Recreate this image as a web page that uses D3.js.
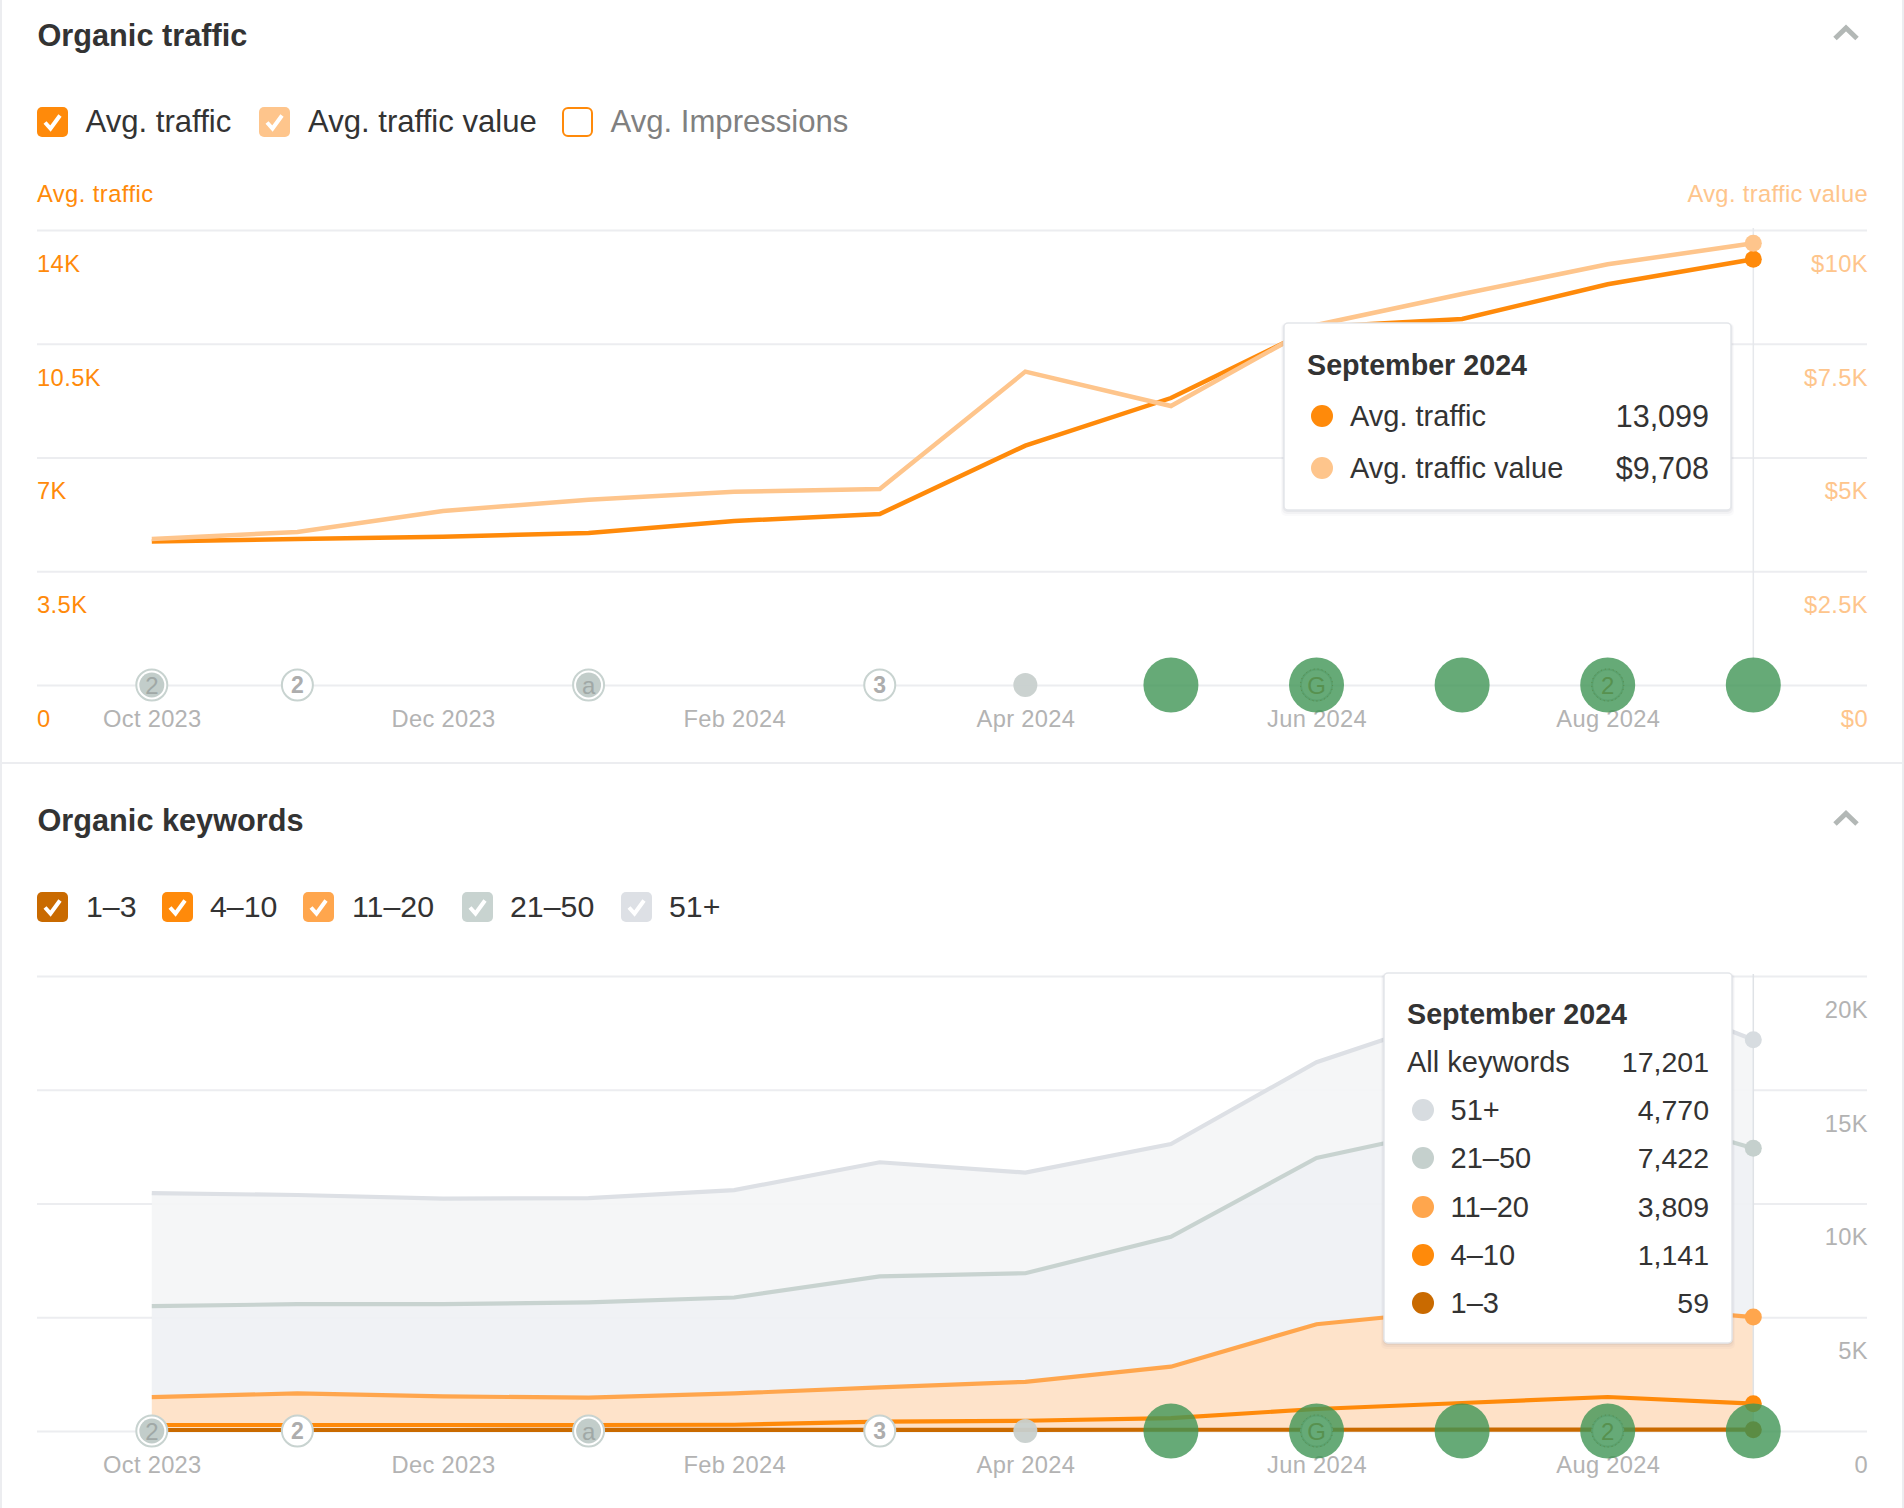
<!DOCTYPE html>
<html><head><meta charset="utf-8">
<script src="https://cdn.jsdelivr.net/npm/d3@7/dist/d3.min.js"></script>
<style>
html,body{margin:0;padding:0;background:#fff;overflow:hidden}
svg{display:block}
text{font-family:"Liberation Sans",Arial,sans-serif}
</style></head><body>
<svg id="c" width="1904" height="1508"></svg>
<script>
const months=["Oct 2023","Nov 2023","Dec 2023","Jan 2024","Feb 2024","Mar 2024","Apr 2024","May 2024","Jun 2024","Jul 2024","Aug 2024","Sep 2024"];
const xTickLabels=["Oct 2023","Dec 2023","Feb 2024","Apr 2024","Jun 2024","Aug 2024"];
const avgTraffic=[4412,4490,4560,4677,5046,5261,7366,8830,11015,11261,12330,13099];
const avgTrafficValue=[3209,3363,3824,4073,4246,4307,6888,6132,7912,8593,9246,9708];
const kw1to3=[45,45,45,46,48,50,52,54,55,57,58,59];
const kw4to10=[219,219,219,218,227,360,398,516,912,1173,1437,1141];
const kw11to20=[1229,1389,1256,1203,1378,1510,1710,2257,3726,4100,4045,3809];
const kw21to50=[4000,3920,4053,4186,4214,4880,4773,5706,7307,8057,8740,7422];
const kw51plus=[4960,4800,4640,4587,4720,5013,4427,4080,4213,4963,5420,4770];
const trafficTicks=[0,3500,7000,10500,14000];
const valueTicks=[0,2500,5000,7500,10000];
const keywordTicks=[0,5000,10000,15000,20000];
const trafficTickLabels=["0","3.5K","7K","10.5K","14K"];
const valueTickLabels=["$0","$2.5K","$5K","$7.5K","$10K"];
const keywordTickLabels=["0","5K","10K","15K","20K"];
const markerKindsByMonth=["disc","ring","none","disc","none","ring","dot","green","green","green","green","green"];
const markerGlyphsByMonth=["2","2","","a","","3","","","G","","2",""];
const trafficLegend=["Avg. traffic","Avg. traffic value","Avg. Impressions"];
const keywordLegend=["1–3","4–10","11–20","21–50","51+"];
const trafficTooltip=[["Avg. traffic","13,099"],["Avg. traffic value","$9,708"]];
const keywordTooltip=[["51+","4,770"],["21–50","7,422"],["11–20","3,809"],["4–10","1,141"],["1–3","59"]];

const C={o:"#ff8a0a",ol:"#fec58c",d:"#c96a00",m:"#ffa64d",g:"#c8d3d0",l:"#dde0e5",grid:"#ecedf0",tick:"#b3b3b3",ink:"#333333"};
const svg=d3.select("#c");
const L=37,R=1867;
const x=d3.scalePoint().domain(months).range([151.8,1753.3]);

// panel frame
svg.append("rect").attr("x",0).attr("y",0).attr("width",2).attr("height",1508).attr("fill","#ecedf0");
svg.append("rect").attr("x",1902).attr("y",0).attr("width",2).attr("height",1508).attr("fill","#ecedf0");
svg.append("rect").attr("x",0).attr("y",762).attr("width",1904).attr("height",2).attr("fill","#ecedf0");

function axisText(sel,anchor,fill){
  sel.attr("x",anchor==="end"?1:0).attr("y",33).attr("dy",".35em").attr("text-anchor",anchor).attr("font-size",23.7).attr("letter-spacing",.4).attr("fill",fill);
}
function title(t,y){
  svg.append("text").attr("x",37.5).attr("y",y).attr("dy",".35em").attr("font-size",30.7).attr("font-weight",700).attr("fill",C.ink).text(t);
  svg.append("path").attr("d",`M1835 ${y+3.5} L1846 ${y-7} L1857 ${y+3.5}`).attr("fill","none").attr("stroke","#b3b8b6").attr("stroke-width",5);
}
function checkbox(xp,y,col,on){
  const g=svg.append("g").attr("transform",`translate(${xp},${y-15})`);
  g.append("rect").attr("x",on?0:1).attr("y",on?0:1).attr("width",on?31:29).attr("height",on?30:28).attr("rx",5)
    .attr("fill",on?col:"#fff").attr("stroke",on?"none":col).attr("stroke-width",2);
  if(on) g.append("path").attr("d","M8 15.5 L13.5 21.5 L23 8.5").attr("fill","none").attr("stroke","#fff").attr("stroke-width",4);
}
function legend(items,cols,bx,lx,y,size,muted){
  items.forEach((t,i)=>{
    checkbox(bx[i],y,cols[i],!(muted===i));
    svg.append("text").attr("x",lx[i]).attr("y",y-0.5).attr("dy",".35em").attr("font-size",size).attr("fill",muted===i?"#808080":C.ink).text(t);
  });
}
function xAxis(y0){
  const g=svg.append("g").attr("transform",`translate(0,${y0})`)
    .call(d3.axisBottom(x).tickValues(xTickLabels).tickSize(0));
  g.select(".domain").remove();
  g.selectAll("text").attr("y",34).attr("dy",".35em").attr("font-size",23.7).attr("letter-spacing",.3).attr("fill",C.tick);
}
function markers(yc){
  const sz=months.map((m,i)=>({m,k:markerKindsByMonth[i],t:markerGlyphsByMonth[i]})).filter(d=>d.k!=="none");
  const g=svg.append("g").selectAll("g").data(sz).join("g").attr("transform",d=>`translate(${x(d.m)},${yc})`);
  g.filter(d=>d.k==="ring"||d.k==="disc"||(d.k==="green"&&d.t)).append("circle").attr("r",15.5).attr("fill","#fff").attr("stroke",C.g).attr("stroke-width",2);
  g.filter(d=>d.k==="disc").append("circle").attr("r",12.5).attr("fill","#c2cdca");
  g.filter(d=>d.k==="dot").append("circle").attr("r",12).attr("fill","#c8d0ce").attr("fill-opacity",.95);
  g.filter(d=>d.k==="green").append("circle").attr("r",27.5).attr("fill","#409555").attr("fill-opacity",.8);
  g.filter(d=>d.k==="green"&&d.t).append("circle").attr("r",16).attr("fill","none").attr("stroke","#5a8a48").attr("stroke-width",1).attr("stroke-dasharray","1 3");
  g.filter(d=>d.t).append("text").attr("text-anchor","middle").attr("dy",".36em").attr("font-size",d=>d.k==="ring"?23:24)
    .attr("font-weight",d=>d.k==="ring"?700:400)
    .attr("fill",d=>d.k==="ring"?"#adadad":d.k==="disc"?"#a0a8a6":"#57914f").text(d=>d.t);
}
function tooltip(xa,ya,w,h,titleY,titleText){
  const g=svg.append("g");
  [[6,.03],[4,.05],[2,.08]].forEach(([s,o])=>g.append("rect").attr("x",xa-s/2).attr("y",ya).attr("width",w+s).attr("height",h+s).attr("rx",5).attr("fill","#59637a").attr("fill-opacity",o));
  g.append("rect").attr("x",xa).attr("y",ya).attr("width",w).attr("height",h).attr("rx",4).attr("fill","#fff").attr("stroke","#e4e6ea").attr("stroke-width",1.5);
  g.append("text").attr("x",xa+23).attr("y",titleY).attr("dy",".35em").attr("font-size",28.7).attr("font-weight",700).attr("fill",C.ink).text(titleText);
  return g;
}
function row(g,dx,lx,rx,y,col,label,val,valSize){
  if(col) g.append("circle").attr("cx",dx).attr("cy",y).attr("r",11).attr("fill",col);
  g.append("text").attr("x",lx).attr("y",y).attr("dy",".35em").attr("font-size",29).attr("fill",C.ink).text(label);
  g.append("text").attr("x",rx).attr("y",y).attr("dy",".35em").attr("text-anchor","end").attr("font-size",valSize).attr("fill",C.ink).text(val);
}

/* ---------- Organic traffic ---------- */
title("Organic traffic",35);
legend(trafficLegend,[C.o,C.ol,C.o],[37,259,562],[85.5,308,610.5],122,31.1,2);
svg.append("text").attr("x",37).attr("y",194).attr("dy",".35em").attr("font-size",23.7).attr("letter-spacing",.45).attr("fill",C.o).text("Avg. traffic");
svg.append("text").attr("x",R+1).attr("y",194).attr("dy",".35em").attr("text-anchor","end").attr("font-size",23.7).attr("letter-spacing",.35).attr("fill",C.ol).text("Avg. traffic value");
const y1=d3.scaleLinear().domain([0,14000]).range([685,230]);
const y1v=d3.scaleLinear().domain([0,10000]).range([685,230]);
const aL=svg.append("g").attr("transform",`translate(${L},0)`).call(d3.axisLeft(y1).tickValues(trafficTicks).tickSize(-(R-L)).tickFormat((d,i)=>trafficTickLabels[i]));
aL.select(".domain").remove();
aL.selectAll("line").attr("stroke",C.grid).attr("stroke-width",2);
axisText(aL.selectAll("text"),"start",C.o);
const aR=svg.append("g").attr("transform",`translate(${R},0)`).call(d3.axisRight(y1v).tickValues(valueTicks).tickSize(0).tickFormat((d,i)=>valueTickLabels[i]));
aR.select(".domain").remove();
axisText(aR.selectAll("text"),"end",C.ol);
xAxis(685);
svg.append("line").attr("x1",x(months[11])).attr("x2",x(months[11])).attr("y1",228).attr("y2",660).attr("stroke","#e6e8ec").attr("stroke-width",1.5);
const ln1=d3.line().x((d,i)=>x(months[i])).y(d=>y1(d));
const ln1v=d3.line().x((d,i)=>x(months[i])).y(d=>y1v(d));
svg.append("path").attr("d",ln1(avgTraffic)).attr("fill","none").attr("stroke",C.o).attr("stroke-width",4.5);
svg.append("path").attr("d",ln1v(avgTrafficValue)).attr("fill","none").attr("stroke",C.ol).attr("stroke-width",4.5);
svg.append("circle").attr("cx",x(months[11])).attr("cy",y1(avgTraffic[11])).attr("r",8.5).attr("fill",C.o);
svg.append("circle").attr("cx",x(months[11])).attr("cy",y1v(avgTrafficValue[11])).attr("r",8.5).attr("fill",C.ol);
markers(685);
const t1=tooltip(1284,323,447,187,365,"September 2024");
row(t1,1322,1350,1709,416,C.o,trafficTooltip[0][0],trafficTooltip[0][1],30.5);
row(t1,1322,1350,1709,468,C.ol,trafficTooltip[1][0],trafficTooltip[1][1],30.5);

/* ---------- Organic keywords ---------- */
title("Organic keywords",820.5);
legend(keywordLegend,[C.d,C.o,C.m,C.g,C.l],[37,162,303,462,621],[86,210,352,510,669],907,30.3);
const y2=d3.scaleLinear().domain([0,20000]).range([1431,976]);
const aK=svg.append("g").attr("transform",`translate(${R},0)`).call(d3.axisRight(y2).tickValues(keywordTicks).tickSize(-(R-L)).tickFormat((d,i)=>keywordTickLabels[i]));
aK.select(".domain").remove();
aK.selectAll("line").attr("stroke",C.grid).attr("stroke-width",2);
axisText(aK.selectAll("text"),"end",C.tick);
xAxis(1431);
const keyNames=["k13","k410","k1120","k2150","k51"];
const rows=months.map((m,i)=>({m,k13:kw1to3[i],k410:kw4to10[i],k1120:kw11to20[i],k2150:kw21to50[i],k51:kw51plus[i]}));
const stacked=d3.stack().keys(keyNames)(rows);
const bandFill=["#fedfc3","#fedfc3","#fee1c6","#eff1f4","#f4f5f6"];
const lineCol=[C.d,C.o,C.m,C.g,C.l];
const dotCol=[C.d,C.o,C.m,"#c5d0cd","#d7dce0"];
const area=d3.area().x(d=>x(d.data.m)).y0(d=>y2(d[0])).y1(d=>y2(d[1]));
const line=d3.line().x(d=>x(d.data.m)).y(d=>y2(d[1]));
svg.append("g").selectAll("path").data(stacked).join("path").attr("d",area).attr("fill",(d,i)=>bandFill[i]).attr("fill-opacity",.93);
svg.append("line").attr("x1",x(months[11])).attr("x2",x(months[11])).attr("y1",974).attr("y2",1431).attr("stroke","#dfe2e6").attr("stroke-width",1.5);
svg.append("g").selectAll("path").data(stacked.slice().reverse()).join("path").attr("d",line).attr("fill","none").attr("stroke",d=>lineCol[d.index]).attr("stroke-width",4.2);
svg.append("g").selectAll("circle").data(stacked).join("circle").attr("cx",x(months[11])).attr("cy",d=>y2(d[11][1])).attr("r",8.5).attr("fill",(d,i)=>dotCol[i]);
markers(1431);
const t2=tooltip(1384,973,348,370,1014,"September 2024");
row(t2,0,1407,1709,1062,null,"All keywords","17,201",28.5);
keywordTooltip.forEach((r,i)=>row(t2,1423,1450.5,1709,[1110,1158,1207,1255,1303][i],dotCol[4-i],r[0],r[1],28.5));
</script>
</body></html>
